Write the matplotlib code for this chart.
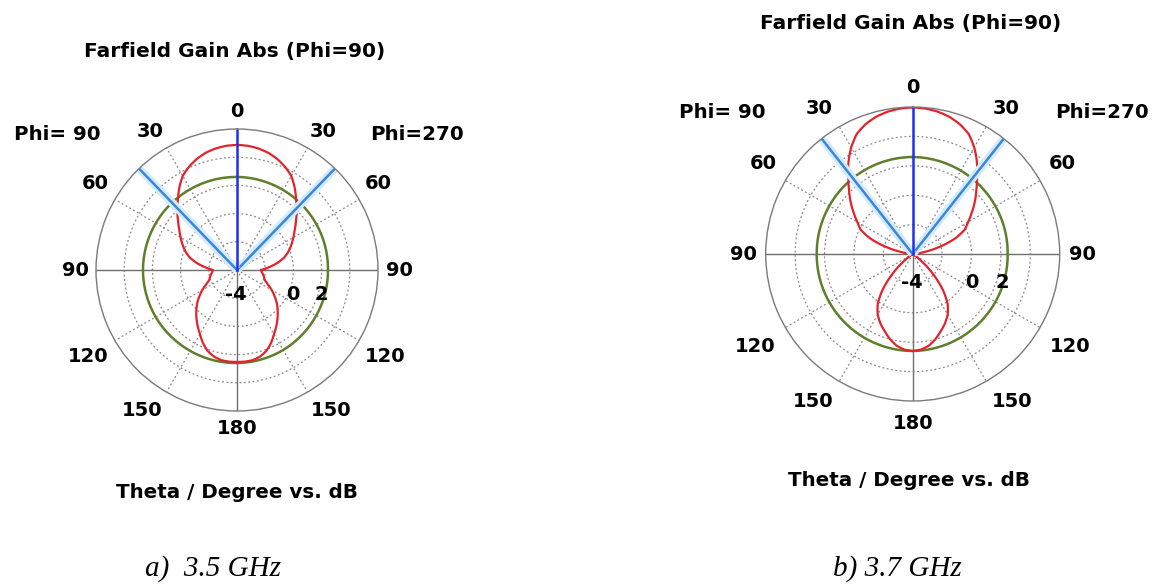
import numpy as np
import matplotlib.pyplot as plt

# ---- data (theta in degrees, gain in dB) ----
theta = list(range(0, 181, 5))
# a) 3.5 GHz, red trace (mirror-symmetric)
gain_a = [4.87, 4.84, 4.75, 4.60, 4.37, 4.07, 3.70, 3.13, 2.52, 1.99, 1.46, 1.00, 0.61, 0.26, -0.10, -0.52,
          -1.09, -1.73, -2.30, -2.23, -2.12, -2.01, -1.91, -1.59, -1.16, -0.74, -0.31, 0.08, 0.47, 0.86,
          1.25, 1.71, 2.10, 2.35, 2.49, 2.52, 2.52]
# green trace, Phi=90 side (left) and Phi=270 side (right)
theta_g = [0, 30, 60, 90, 120, 150, 180]
green_a_left = [2.6, 2.62, 2.65, 2.67, 2.66, 2.63, 2.6]
green_a_right = [2.6, 2.55, 2.5, 2.45, 2.48, 2.55, 2.6]
beam_a = 44

# b) 3.7 GHz
gain_b = [5.97, 5.93, 5.83, 5.66, 5.39, 5.01, 4.37, 3.62, 2.80, 2.12, 1.51, 0.90, 0.35, -0.10, -0.95, -2.10,
          -3.18, -3.86, -4.0, -4.0, -4.0, -4.0, -4.0, -4.0, -4.0, -4.0, -3.05, -1.96, -0.80, 0.15,
          0.76, 1.20, 1.58, 1.99, 2.33, 2.53, 2.60]
green_b_left = [2.6, 2.58, 2.55, 2.53, 2.55, 2.58, 2.6]
green_b_right = [2.6, 2.55, 2.5, 2.46, 2.5, 2.55, 2.6]
beam_b = 38.3

angle_ticks = [0, 30, 60, 90, 120, 150, 180]
rad_labels = [-4, 0, 2]

RED = '#e3232b'
GREEN = '#5f7f2c'
LBLUE = '#3b86d8'
DBLUE = '#1f2ff0'
GRID = '#8a8a8a'
BOLD = dict(fontweight='bold', family='DejaVu Sans')
W, H = 1158, 584


def both_sides(th, g_right, g_left=None):
    if g_left is None:
        g_left = g_right
    th = np.array(th, dtype=float)
    t = np.concatenate([th, 360 - th[::-1]])
    g = np.concatenate([np.array(g_right), np.array(g_left)[::-1]])
    return np.radians(t), g


def smooth_plot(ax, t, g, **kw):
    ln = ax.plot(t, g, **kw)[0]
    ln.get_path()._interpolation_steps = 40
    return ln


def draw(ax, R, gain, gl, gr, beam, lab_ang, lab_px):
    ax.set_theta_zero_location('N')
    ax.set_theta_direction(-1)
    ax.set_ylim(-4, 6)
    ax.set_xticks([])
    ax.set_yticks([])
    ax.grid(False)
    ax.spines['polar'].set_color('#7a7a7a')
    ax.spines['polar'].set_linewidth(1.0)
    tt = np.linspace(0, 2 * np.pi, 361)
    for r in [-2, 0, 2, 4]:
        ax.plot(tt, np.full_like(tt, r), color=GRID, lw=0.9, ls=(0, (1.5, 2)))
    for a in [30, 60, 120, 150, 210, 240, 300, 330]:
        ax.plot([np.radians(a)] * 2, [-4, 6], color=GRID, lw=0.9, ls=(0, (1.5, 2)))
    for a in [90, 180, 270]:
        ax.plot([np.radians(a)] * 2, [-4, 6], color='#6f6f6f', lw=1.0)
    t, g = both_sides(theta_g, gr, gl)
    smooth_plot(ax, t, g, color=GREEN, lw=1.8)
    t, g = both_sides(theta, gain)
    smooth_plot(ax, t, g, color=RED, lw=1.6)
    for a in [beam, 360 - beam]:
        ax.plot([np.radians(a)] * 2, [-4, 6], color='#d3ebfb', lw=6, solid_capstyle='butt')
        ax.plot([np.radians(a)] * 2, [-4, 6], color=LBLUE, lw=1.8)
    ax.plot([0, 0], [-4, 6], color=DBLUE, lw=1.8)
    unit = R / 10.0
    for a, la, lp in zip(angle_ticks, lab_ang, lab_px):
        rr = -4 + lp / unit
        for s in ([la] if a in (0, 180) else [la, 360 - la]):
            ax.text(np.radians(s), rr, str(a), ha='center', va='center', fontsize=14,
                    clip_on=False, **BOLD)


def ftext(x, y, s, **kw):
    fig.text(x / W, 1 - y / H, s, **kw)


fig = plt.figure(figsize=(W / 100, H / 100), dpi=100)

# a) 3.5 GHz
cx, cy, R = 237, 270, 141
axa = fig.add_axes([(cx - R) / W, (H - cy - R) / H, 2 * R / W, 2 * R / H], projection='polar')
draw(axa, R, gain_a, green_a_left, green_a_right, beam_a,
     [0, 32, 58.6, 90, 120.3, 146, 180], [158, 163, 166, 162, 172, 169, 158])
ftext(235, 52, 'Farfield Gain Abs (Phi=90)', ha='center', va='center', fontsize=14.5, **BOLD)
ftext(237, 493, 'Theta / Degree vs. dB', ha='center', va='center', fontsize=14.3, **BOLD)
ftext(57, 134, 'Phi= 90', ha='center', va='center', fontsize=14.3, **BOLD)
ftext(417, 134, 'Phi=270', ha='center', va='center', fontsize=14.3, **BOLD)
for v, x in zip(rad_labels, [236, 293, 321]):
    ftext(x, 295, str(v), ha='center', va='center', fontsize=14, **BOLD)
ftext(213, 576, 'a)  3.5 GHz', ha='center', va='baseline', fontsize=21,
      family='Liberation Serif', style='italic')

# b) 3.7 GHz
cx, cy, R = 912.7, 254, 147
axb = fig.add_axes([(cx - R) / W, (H - cy - R) / H, 2 * R / W, 2 * R / H], projection='polar')
draw(axb, R, gain_b, green_b_left, green_b_right, beam_b,
     [0, 32.7, 58.7, 90, 120.4, 145.9, 180], [166.7, 173, 175, 169.4, 183, 178, 169.3])
ftext(911, 23, 'Farfield Gain Abs (Phi=90)', ha='center', va='center', fontsize=14.5, **BOLD)
ftext(909, 480, 'Theta / Degree vs. dB', ha='center', va='center', fontsize=14.3, **BOLD)
ftext(722, 112, 'Phi= 90', ha='center', va='center', fontsize=14.3, **BOLD)
ftext(1102, 112, 'Phi=270', ha='center', va='center', fontsize=14.3, **BOLD)
for v, x in zip(rad_labels, [912, 972, 1002]):
    ftext(x, 282, str(v), ha='center', va='center', fontsize=14, **BOLD)
ftext(897, 576, 'b) 3.7 GHz', ha='center', va='baseline', fontsize=21,
      family='Liberation Serif', style='italic')

fig.savefig('out.png', dpi=100)
